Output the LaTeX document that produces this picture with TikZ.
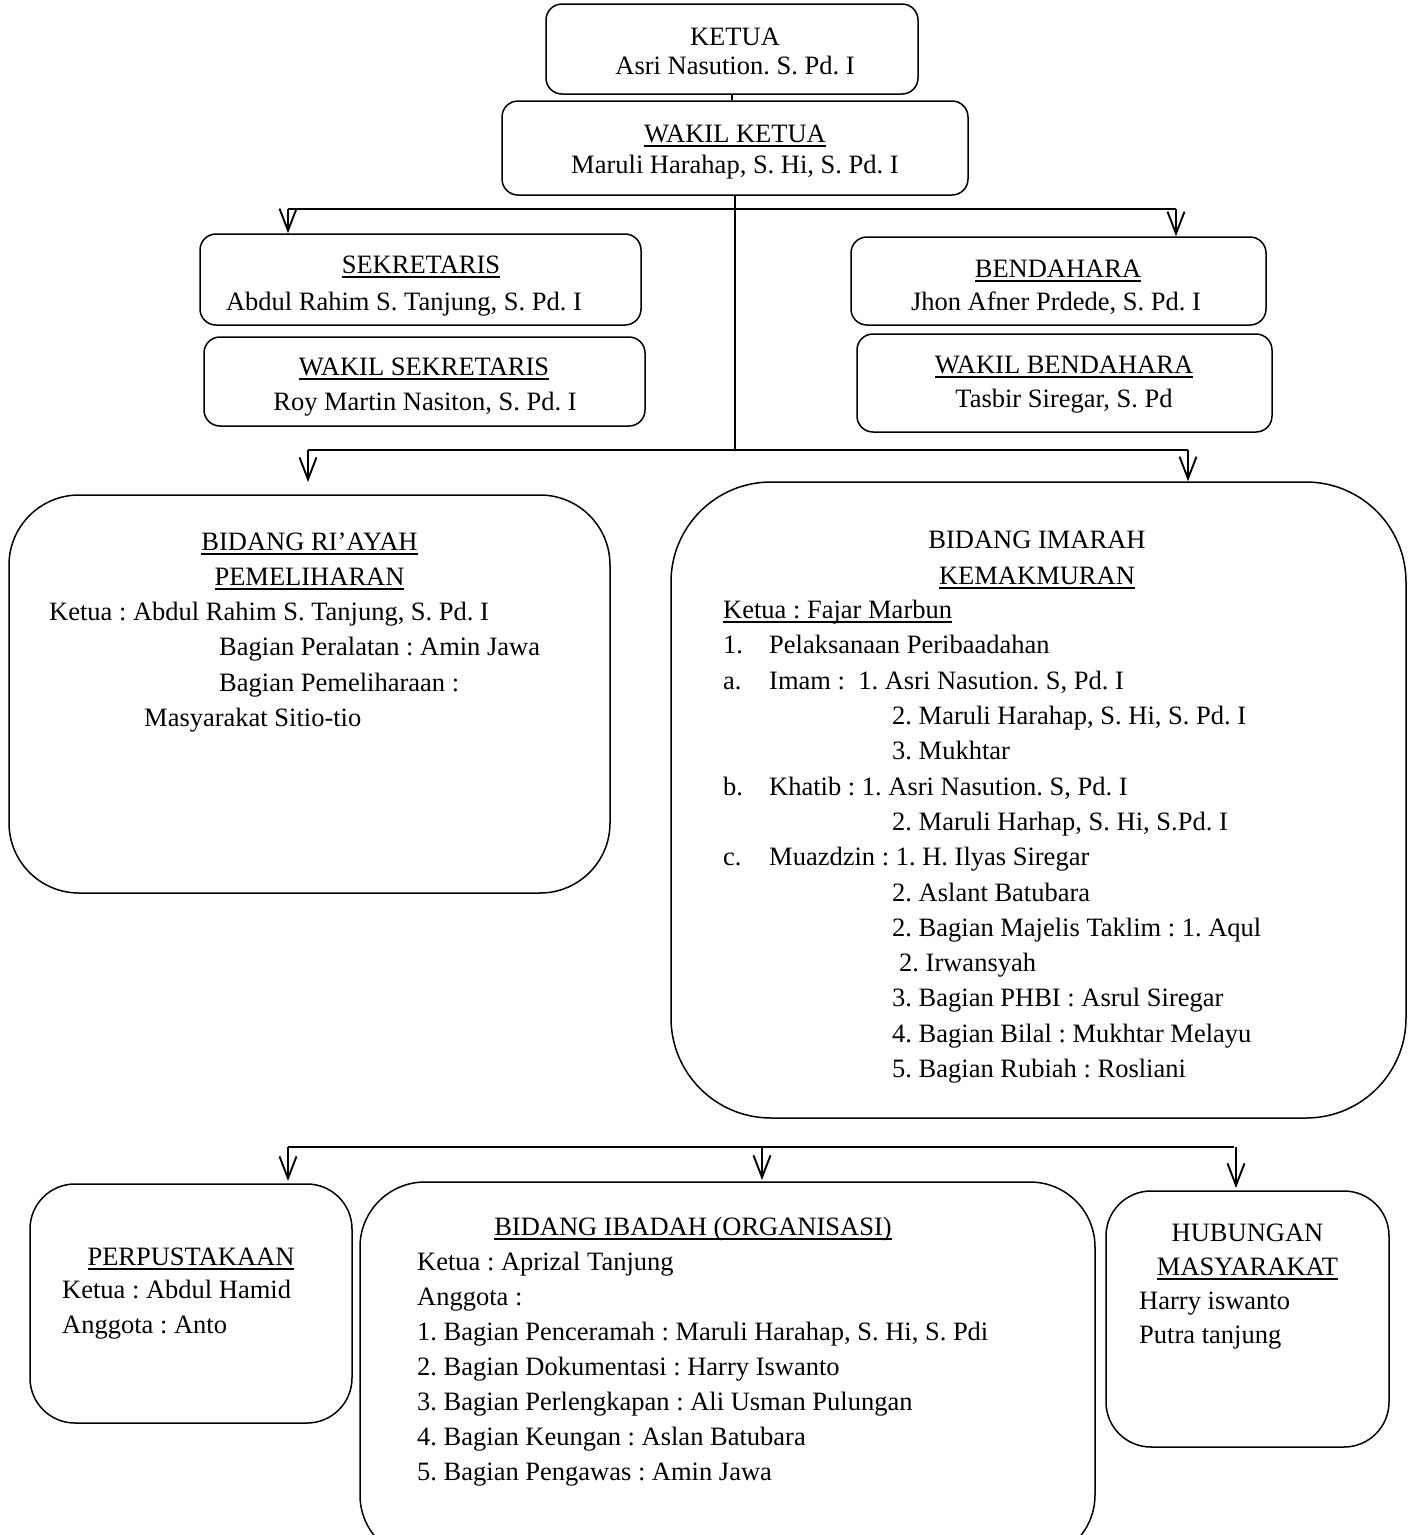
\documentclass[tikz,border=0pt]{standalone}
\usepackage{fontspec}
\setmainfont{Liberation Serif}
\usetikzlibrary{arrows.meta}
\newcommand\ulin[1]{\setbox0=\hbox{#1}\rlap{\rule[-4.6pt]{\wd0}{1.8pt}}\box0}
\begin{document}
\frenchspacing
\begin{tikzpicture}[x=1pt,y=-1pt,
  box/.style={draw, line width=1.5pt, rounded corners=#1, inner sep=0pt},
  box/.default=16pt,
  txt/.style={inner sep=0pt, font=\fontsize{26.5}{32}\selectfont},
  lt/.style={txt, anchor=base west},
  ct/.style={txt, anchor=base},
  bus/.style={line width=2.5pt},
  stem/.style={line width=1.4pt},
  arr/.style={line width=1.9pt, -{Straight Barb[length=22pt,width=17pt]}}
]
\useasboundingbox (0,0) rectangle (1409,1535);
\clip (0,0) rectangle (1409,1535);

% ---- boxes
\node[box, minimum width=372, minimum height=90] (ketua) at (732,49) {};
\node[box, minimum width=466, minimum height=94] (wk) at (735,148) {};
\node[box, minimum width=441, minimum height=91] (sek) at (420.5,279.5) {};
\node[box, minimum width=441, minimum height=89] (wsek) at (424.5,381.5) {};
\node[box, minimum width=415, minimum height=88] (bend) at (1058.5,281) {};
\node[box, minimum width=415, minimum height=98] (wbend) at (1064.5,383) {};
\node[box=70pt, minimum width=601, minimum height=398] (riayah) at (309.5,694) {};
\node[box=100pt, minimum width=735, minimum height=636] (imarah) at (1038.5,800) {};
\node[box=45pt, minimum width=322, minimum height=239] (perpus) at (191,1303.5) {};
\node[box=65pt, minimum width=735, minimum height=378] (ibadah) at (727.5,1371) {};
\node[box=45pt, minimum width=283, minimum height=256] (humas) at (1247.5,1319) {};

% ---- connectors
\coordinate (b1L) at (288,209);
\coordinate (b1R) at (1176,209);
\coordinate (b2L) at (308,450);
\coordinate (b2R) at (1188,450);
\coordinate (tipRiayah) at (308,482);
\coordinate (b3L) at (288,1147);
\coordinate (b3M) at (762,1147);
\coordinate (b3R) at (1234,1147);
\coordinate (b3H) at (1236,1147);
\coordinate (tipPerpus) at (288,1181);
\coordinate (tipIbadah) at (762,1180);
\coordinate (tipHumas) at (1236,1188);

\draw[stem] (ketua.south) -- (ketua.south |- wk.north);
\draw[stem] (wk.south) -- (wk.south |- b2L);
\draw[bus] (b1L) -- (b1R);
\draw[arr] (b1L) -- (b1L |- sek.north);
\draw[arr] (b1R) -- (b1R |- bend.north);
\draw[bus] (b2L) -- (b2R);
\draw[arr] (b2L) -- (tipRiayah);
\draw[arr] (b2R) -- (b2R |- imarah.north);
\draw[bus] (b3L) -- (b3R);
\draw[arr] (b3L) -- (tipPerpus);
\draw[arr] (b3M) -- (tipIbadah);
\draw[arr] (b3H) -- (tipHumas);

% ---- texts: top
\node[ct] (t1) at (735,45) {KETUA};
\node[ct] (t2) at (735,74) {Asri Nasution. S. Pd. I};
\node[ct] (t3) at (735,142) {\ulin{WAKIL KETUA}};
\node[ct] (t4) at (735,173) {Maruli Harahap, S. Hi, S. Pd. I};
\node[ct] (t5) at (421,273) {\ulin{SEKRETARIS}};
\node[ct] (t6) at (404,310) {Abdul Rahim S. Tanjung, S. Pd. I};
\node[ct] (t7) at (424,375) {\ulin{WAKIL SEKRETARIS}};
\node[ct] (t8) at (425,410) {Roy Martin Nasiton, S. Pd. I};
\node[ct] (t9) at (1058,277) {\ulin{BENDAHARA}};
\node[ct] (t10) at (1056,310) {Jhon Afner Prdede, S. Pd. I};
\node[ct] (t11) at (1064,373) {\ulin{WAKIL BENDAHARA}};
\node[ct] (t12) at (1064,407) {Tasbir Siregar, S. Pd};

% ---- Riayah
\node[ct] (r1) at (309.5,550) {\ulin{BIDANG RI’AYAH}};
\node[ct] (r2) at (309.5,585) {\ulin{PEMELIHARAN}};
\node[lt] (r3) at (49,620) {Ketua : Abdul Rahim S. Tanjung, S. Pd. I};
\node[lt] (r4) at (219,655) {Bagian Peralatan : Amin Jawa};
\node[lt] (r5) at (219,691) {Bagian Pemeliharaan :};
\node[lt] (r6) at (144,726) {Masyarakat Sitio-tio};

% ---- Imarah
\node[ct] (m1) at (1037,548) {BIDANG IMARAH};
\node[ct] (m2) at (1037,584) {\ulin{KEMAKMURAN}};
\node[lt] (m3) at (723,618) {\ulin{Ketua : Fajar Marbun}};
\node[lt] (m4) at (723,653) {1.};
\node[lt] (m5) at (769,653) {Pelaksanaan Peribaadahan};
\node[lt] (m6) at (723,689) {a.};
\node[lt] (m7) at (769,689) {Imam :\ \ 1. Asri Nasution. S, Pd. I};
\node[lt] (m8) at (892,724) {2. Maruli Harahap, S. Hi, S. Pd. I};
\node[lt] (m9) at (892,759) {3. Mukhtar};
\node[lt] (m10) at (723,795) {b.};
\node[lt] (m11) at (769,795) {Khatib : 1. Asri Nasution. S, Pd. I};
\node[lt] (m12) at (892,830) {2. Maruli Harhap, S. Hi, S.Pd. I};
\node[lt] (m13) at (723,865) {c.};
\node[lt] (m14) at (769,865) {Muazdzin : 1. H. Ilyas Siregar};
\node[lt] (m15) at (892,901) {2. Aslant Batubara};
\node[lt] (m16) at (892,936) {2. Bagian Majelis Taklim : 1. Aqul};
\node[lt] (m17) at (899,971) {2. Irwansyah};
\node[lt] (m18) at (892,1006) {3. Bagian PHBI : Asrul Siregar};
\node[lt] (m19) at (892,1042) {4. Bagian Bilal : Mukhtar Melayu};
\node[lt] (m20) at (892,1077) {5. Bagian Rubiah : Rosliani};

% ---- Perpustakaan
\node[ct] (p1) at (191,1265) {\ulin{PERPUSTAKAAN}};
\node[lt] (p2) at (62,1298) {Ketua : Abdul Hamid};
\node[lt] (p3) at (62,1333) {Anggota : Anto};

% ---- Ibadah
\node[ct] (i1) at (693,1235) {\ulin{BIDANG IBADAH (ORGANISASI)}};
\node[lt] (i2) at (417,1270) {Ketua : Aprizal Tanjung};
\node[lt] (i3) at (417,1305) {Anggota :};
\node[lt] (i4) at (417,1340) {1. Bagian Penceramah : Maruli Harahap, S. Hi, S. Pdi};
\node[lt] (i5) at (417,1375) {2. Bagian Dokumentasi : Harry Iswanto};
\node[lt] (i6) at (417,1410) {3. Bagian Perlengkapan : Ali Usman Pulungan};
\node[lt] (i7) at (417,1445) {4. Bagian Keungan : Aslan Batubara};
\node[lt] (i8) at (417,1480) {5. Bagian Pengawas : Amin Jawa};

% ---- Humas
\node[ct] (h1) at (1247.5,1241) {HUBUNGAN};
\node[ct] (h2) at (1247.5,1275) {\ulin{MASYARAKAT}};
\node[lt] (h3) at (1139,1309) {Harry iswanto};
\node[lt] (h4) at (1139,1343) {Putra tanjung};
\end{tikzpicture}
\end{document}
